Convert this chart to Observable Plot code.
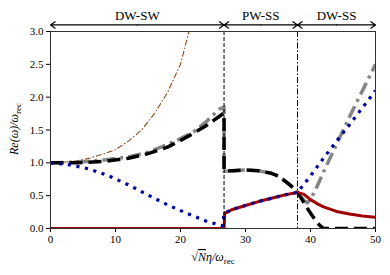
<!DOCTYPE html>
<html><head><meta charset="utf-8">
<script src="https://cdn.jsdelivr.net/npm/d3@7"></script>
<script src="https://cdn.jsdelivr.net/npm/@observablehq/plot@0.6"></script>
<style>body{margin:0;background:#fff}</style>
</head><body><div id="chart"></div>
<script>
// Region boundaries and labels
const regionBounds = [0, 26.7, 38, 50];
const regionLabels = ["DW-SW", "PW-SS", "DW-SS"];
const xTicks = [0, 10, 20, 30, 40, 50];
const yTicks = [0, 0.5, 1.0, 1.5, 2.0, 2.5, 3.0];

// Brown thin dash-dot curve
const brownX = [0, 2, 4, 6, 8, 10, 12, 14, 16, 18, 20, 21.3, 22.5];
const brownY = [1.0, 1.01, 1.03, 1.07, 1.13, 1.2, 1.33, 1.5, 1.75, 2.07, 2.5, 3.0, 3.4];

// Gray thick dash-dot curve
const grayX = [0, 4, 8, 12, 15, 18, 20, 22, 24, 26, 26.7, 26.7, 28, 30, 32, 34, 35, 36, 37, 38, 39, 39.5, 40, 41, 42, 44, 46, 48, 50];
const grayY = [1.0, 1.01, 1.04, 1.09, 1.16, 1.28, 1.37, 1.47, 1.63, 1.82, 1.85, 0.87, 0.88, 0.89, 0.88, 0.84, 0.80, 0.73, 0.65, 0.55, 0.43, 0.39, 0.44, 0.64, 0.86, 1.28, 1.7, 2.1, 2.5];

// Black thick dashed curve
const blackX = [0, 4, 8, 12, 15, 18, 20, 22, 24, 26, 26.7, 26.7, 28, 30, 32, 34, 35, 36, 37, 38, 38.7, 39.5, 40.3, 41.3, 42, 44, 46, 48, 50];
const blackY = [1.0, 1.0, 1.02, 1.07, 1.14, 1.24, 1.34, 1.45, 1.57, 1.71, 1.76, 0.87, 0.88, 0.89, 0.88, 0.84, 0.80, 0.73, 0.65, 0.55, 0.44, 0.31, 0.19, 0.06, 0.0, 0.0, 0.0, 0.0, 0.0];

// Red solid curve
const redX = [0, 26.7, 26.8, 28, 30, 32, 34, 36, 38, 39, 40, 41, 42, 44, 46, 48, 50];
const redY = [0, 0, 0.23, 0.29, 0.35, 0.41, 0.46, 0.51, 0.55, 0.52, 0.44, 0.38, 0.33, 0.26, 0.22, 0.19, 0.17];

// Blue dotted curve
const blueX = [0, 3, 6, 9, 12, 15, 18, 21, 24, 26.5, 26.7, 28, 30, 32, 34, 36, 38, 40, 42, 44, 46, 48, 50];
const blueY = [1.0, 0.97, 0.905, 0.80, 0.665, 0.51, 0.36, 0.23, 0.11, 0.04, 0.23, 0.29, 0.35, 0.41, 0.46, 0.51, 0.55, 0.8, 1.07, 1.33, 1.58, 1.84, 2.1];

const toRows = (xs, ys) => xs.map((x, i) => ({x, y: ys[i]}));
const regions = regionLabels.map((label, i) => ({label, a: regionBounds[i], b: regionBounds[i + 1], mid: (regionBounds[i] + regionBounds[i + 1]) / 2}));
const arrowRows = regions.flatMap(r => [{x1: r.mid, x2: r.a}, {x1: r.mid, x2: r.b}]);

const lineOpts = {x: "x", y: "y", clip: true, strokeLinecap: "butt", strokeLinejoin: "round"};
const FONT = "'Liberation Serif', serif";

const plot = Plot.plot({
  width: 390, height: 275,
  marginLeft: 50, marginRight: 15, marginTop: 31, marginBottom: 47,
  style: {fontFamily: FONT, fontSize: "11px", background: "white", color: "black"},
  x: {domain: [0, 50], ticks: xTicks, tickSize: 4, tickPadding: 3, label: null},
  y: {domain: [0, 3], ticks: yTicks, tickFormat: d3.format(".1f"), tickSize: 4, tickPadding: 3, label: null},
  marks: [
    Plot.line(toRows(brownX, brownY), {...lineOpts, stroke: "#8b4513", strokeWidth: 1.1, strokeDasharray: "6,2,1.5,2"}),
    Plot.line(toRows(grayX, grayY), {...lineOpts, stroke: "#858585", strokeWidth: 3.5, strokeDasharray: "13,5,3,5"}),
    Plot.line(toRows(blackX, blackY), {...lineOpts, stroke: "black", strokeWidth: 3.5, strokeDasharray: "13,6"}),
    Plot.line(toRows(redX, redY), {...lineOpts, stroke: "#a00000", strokeWidth: 3}),
    Plot.line(toRows(blueX, blueY), {...lineOpts, stroke: "#0000a0", strokeWidth: 3.2, strokeDasharray: "3.2,5.5"}),
    Plot.ruleX([regionBounds[1]], {stroke: "black", strokeWidth: 1, strokeDasharray: "4,2"}),
    Plot.ruleX([regionBounds[2]], {stroke: "black", strokeWidth: 1, strokeDasharray: "6,2,1.5,2"}),
    Plot.frame({stroke: "#333", strokeWidth: 1}),
    Plot.arrow(arrowRows, {x1: "x1", x2: "x2", y1: 3.1, y2: 3.1, stroke: "black", strokeWidth: 1.2, headLength: 7, headAngle: 70}),
    Plot.text(regions, {x: "mid", y: 3.235, text: "label", fontSize: 13, fill: "black"})
  ]
});

const svg = d3.select(plot);
// y label
const yl = svg.append("text")
  .attr("transform", "translate(18,129) rotate(-90)")
  .attr("text-anchor", "middle")
  .attr("font-size", 12)
  .attr("font-family", FONT)
  .attr("fill", "black");
yl.append("tspan").attr("font-style", "italic").text("Re(ω)/ω");
yl.append("tspan").attr("font-size", 9).attr("dy", 2.5).text("rec");
// x label
const xl = svg.append("text")
  .attr("x", 213).attr("y", 261)
  .attr("text-anchor", "middle")
  .attr("font-size", 12)
  .attr("font-family", FONT)
  .attr("fill", "black");
xl.append("tspan").text("√");
xl.append("tspan").attr("font-style", "italic").style("text-decoration", "overline").text("N");
xl.append("tspan").attr("font-style", "italic").text("η/ω");
xl.append("tspan").attr("font-size", 9).attr("dy", 2.5).text("rec");

document.getElementById("chart").appendChild(plot);
</script>
</body></html>
